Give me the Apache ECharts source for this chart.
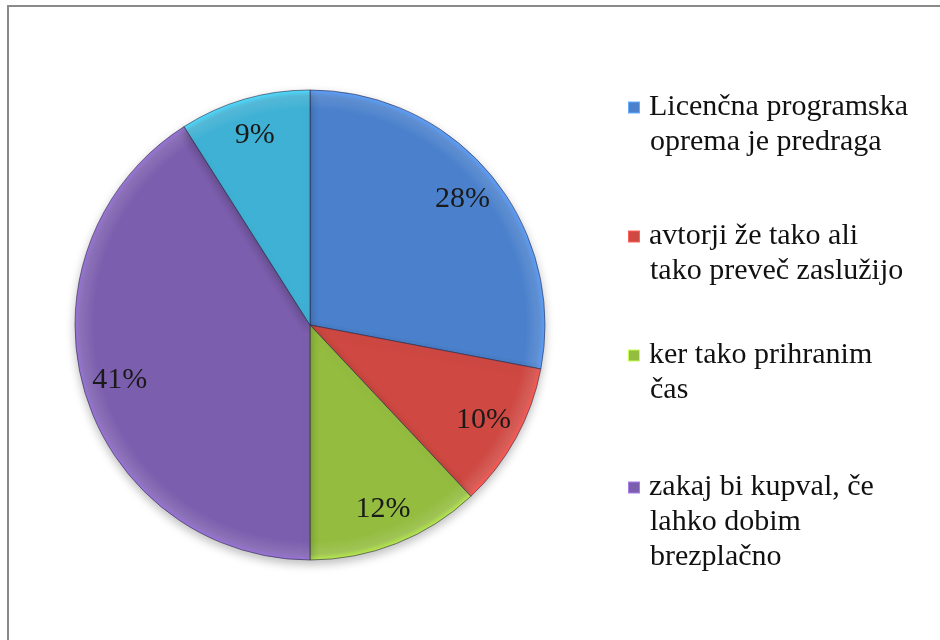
<!DOCTYPE html>
<html>
<head>
<meta charset="utf-8">
<script src="https://cdn.jsdelivr.net/npm/echarts@6/dist/echarts.min.js"></script>
<style>
  html, body { margin: 0; padding: 0; background: #fff; }
  #chart { width: 940px; height: 640px; }
</style>
</head>
<body>
<div id="chart"></div>
<script>
// data
const categories = [
  'Licenčna programska\noprema je predraga',
  'avtorji že tako ali\ntako preveč zaslužijo',
  'ker tako prihranim\nčas',
  'zakaj bi kupval, če\nlahko dobim\nbrezplačno',
  'drugo'
]
const values = [28, 10, 12, 41, 9]
const colors = ['#4b81cc', '#cf4842', '#94bc3f', '#7c5eae', '#3fb1d4']
const legendTops = [90, 219, 338, 470]

const LH = 35
const FONT = '"Liberation Serif", "DejaVu Serif", serif'
const CX = 310, CY = 325, R = 235

const chart = echarts.init(document.getElementById('chart'))

const pieData = categories.map((name, i) => ({
  name: name,
  value: values[i],
  itemStyle: {
    color: new echarts.graphic.RadialGradient(CX, CY, R, [
      { offset: 0, color: colors[i] },
      { offset: 0.92, color: colors[i] },
      { offset: 0.975, color: echarts.color.lift(colors[i], 0.12) },
      { offset: 1, color: echarts.color.lift(colors[i], -0.25) }
    ], true)
  }
}))

// one legend per item; the marker is drawn as a rich-text box on the first line
const legends = categories.slice(0, 4).map((name, i) => {
  const rich = {
    box: {
      width: 10, height: 10,
      backgroundColor: colors[i],
      borderColor: echarts.color.lift(colors[i], -0.35),
      borderWidth: 1
    },
    gap: { width: 10 },
    ind: { width: 21 }
  }
  return {
    left: 623,
    top: legendTops[i],
    padding: 0,
    itemWidth: 0,
    itemHeight: 0,
    itemStyle: { opacity: 0 },
    selectedMode: false,
    data: [name],
    formatter: n => n.split('\n').map((line, k) => (k === 0 ? '{box|}{gap|}' : '{ind|}') + line).join('\n'),
    textStyle: {
      fontFamily: FONT,
      fontSize: 30,
      lineHeight: LH,
      color: '#111',
      rich: rich
    }
  }
})

chart.setOption({
  animation: false,
  backgroundColor: '#fff',
  color: colors,
  graphic: [{
    type: 'rect',
    shape: { x: 8, y: 6, width: 960, height: 660 },
    style: { fill: 'none', stroke: '#8a8a8a', lineWidth: 2 },
    silent: true
  }],
  legend: legends,
  series: [
    {
      type: 'pie',
      center: [CX, CY],
      radius: R,
      startAngle: 90,
      clockwise: true,
      label: { show: false },
      labelLine: { show: false },
      emphasis: { disabled: true },
      itemStyle: {
        borderColor: 'rgba(40,40,70,0.6)',
        borderWidth: 1,
        shadowBlur: 10,
        shadowOffsetY: 4,
        shadowColor: 'rgba(0,0,0,0.25)'
      },
      data: pieData
    },
    {
      // transparent ring that only carries the percentage labels
      type: 'pie',
      center: [CX, CY],
      radius: [155, R],
      startAngle: 90,
      silent: true,
      legendHoverLink: false,
      itemStyle: { color: 'rgba(0,0,0,0)' },
      label: {
        show: true,
        position: 'inside',
        formatter: '{c}%',
        fontFamily: FONT,
        fontSize: 30,
        color: '#1a1a1a'
      },
      labelLine: { show: false },
      emphasis: { disabled: true },
      data: categories.map((name, i) => ({ name: name, value: values[i] }))
    }
  ]
})
</script>
</body>
</html>
